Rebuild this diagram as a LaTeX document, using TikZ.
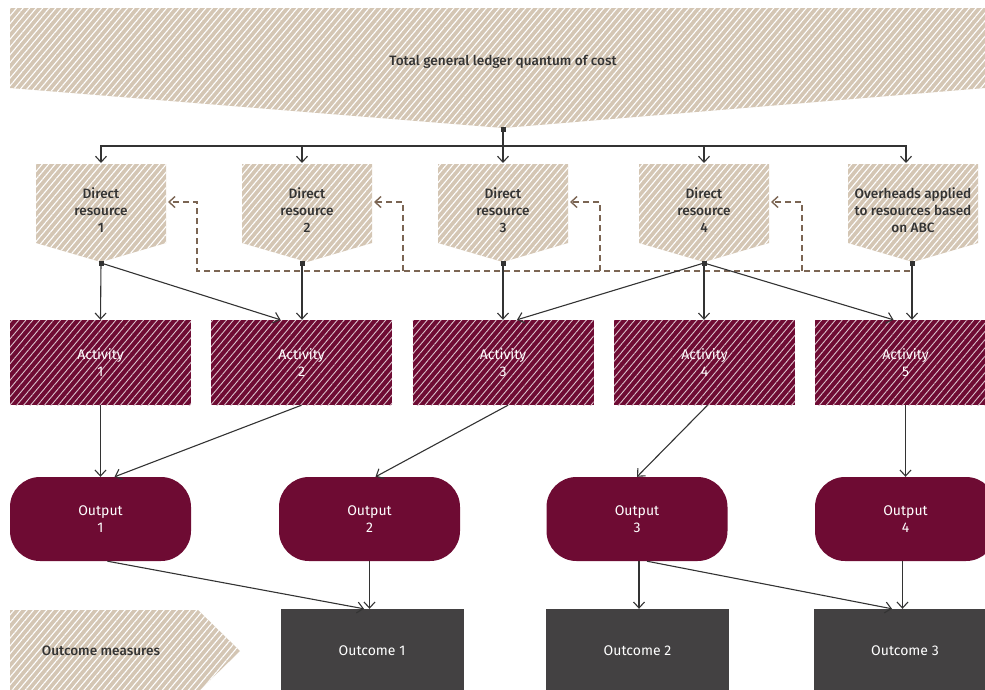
\documentclass[tikz,border=0pt]{standalone}
\usepackage{fontspec}
\setmainfont{Fira Sans}
\newfontfamily\medfont{Fira Sans}[UprightFont={* Medium}]
\usetikzlibrary{arrows.meta,patterns.meta}
\definecolor{beige}{HTML}{D4C6B4}
\definecolor{wine}{HTML}{6E0B33}
\definecolor{darkbox}{HTML}{434142}
\definecolor{ink}{HTML}{333333}
\definecolor{dashbrown}{HTML}{7B6553}
\tikzset{
  beigehatch/.style={fill=beige, postaction={pattern={Lines[angle=50,distance=5pt,line width=1.1pt]}, pattern color=white}},
  winehatch/.style={fill=wine, postaction={pattern={Lines[angle=50,distance=5.3pt,line width=0.9pt]}, pattern color=white!75!wine}},
  conn/.style={draw=ink, line width=1.1pt, -{Straight Barb[length=6pt,width=11pt]}},
  dconn/.style={draw=dashbrown, line width=1.4pt, dash pattern=on 6pt off 4pt, -{Straight Barb[length=6pt,width=11pt]}},
  dot/.style={fill=ink, minimum size=5pt, inner sep=0pt, rectangle},
  lbl/.style={font=\medfont\fontsize{13.6}{17}\selectfont, text=ink, align=center},
  wlbl/.style={font=\fontsize{14}{17}\selectfont, text=white, align=center},
  actbox/.style={winehatch, rectangle, minimum width=181pt, minimum height=85pt, inner sep=0pt, wlbl},
  outbox/.style={fill=wine, rectangle, rounded corners=30pt, minimum width=181pt, minimum height=84pt, inner sep=0pt, wlbl},
  resbox/.style={fill=darkbox, rectangle, minimum width=183pt, minimum height=84pt, inner sep=0pt, wlbl},
}
\begin{document}
\begin{tikzpicture}[x=1pt,y=-1pt]
\useasboundingbox (0,0) rectangle (985,689);
\begin{scope}
\clip (0,0) rectangle (985,689);
% top banner
\path[beigehatch] (10,8) -- (985,8) -- (985,88) -- (503,128) -- (10,88) -- cycle;
\node[lbl] (total) at (503,62) {Total general ledger quantum of cost};
\coordinate (gl) at (503,129);
\coordinate (bus) at (503,146);
% resources
\foreach \n/\x/\t in {1/101/{Direct\\resource\\1},2/307/{Direct\\resource\\2},3/503/{Direct\\resource\\3},4/704/{Direct\\resource\\4},5/913/{Overheads applied\\to resources based\\on ABC}}{
  \path[beigehatch] (\x-65,164) -- (\x+65,164) -- (\x+65,243) -- (\x,262) -- (\x-65,243) -- cycle;
  \node[lbl] (r\n) at (\x,210) {\t};
  \coordinate (r\n-e) at (\x+67,202);
}
\coordinate (r1-top) at (101,163);
\coordinate (r2-top) at (302,163);
\coordinate (r3-top) at (503,163);
\coordinate (r4-top) at (704,163);
\coordinate (r5-top) at (906,163);
\coordinate (r1-tip) at (101,263);
\coordinate (r2-tip) at (302,263);
\coordinate (r3-tip) at (503,263);
\coordinate (r4-tip) at (704,263);
\coordinate (r5-tip) at (912,263);
% bus connectors
\foreach \n in {1,...,5}{
  \draw[conn] (gl) -- (bus) -| (r\n-top);
}
% dashed overhead allocation
\coordinate (j1) at (197,271);
\coordinate (j2) at (403,271);
\coordinate (j3) at (600,271);
\coordinate (j4) at (802,271);
\draw[dconn] (r5-tip) |- (j1) |- (r1-e);
\draw[dconn] (j2) |- (r2-e);
\draw[dconn] (j3) |- (r3-e);
\draw[dconn] (j4) |- (r4-e);
% activities
\foreach \n/\x in {1/100.5,2/301.5,3/503,4/704.5,5/905.5}{
  \node[actbox] (a\n) at (\x,362.5) {Activity\\\n};
}
% resource -> activity
\draw[conn] (r1-tip) -- (a1.north);
\draw[conn] (r1-tip) -- ([xshift=-21pt]a2.north);
\draw[conn] (r2-tip) -- (r2-tip |- a2.north);
\draw[conn] (r3-tip) -- (a3.north);
\draw[conn] (r4-tip) -- ([xshift=14pt]a3.north);
\draw[conn] (r4-tip) -- (r4-tip |- a4.north);
\draw[conn] (r4-tip) -- ([xshift=-12pt]a5.north);
\draw[conn] (r5-tip) -- (r5-tip |- a5.north);
\foreach \n in {1,...,5}{ \node[dot] (d\n) at (r\n-tip) {}; }
\node[dot] (d0) at (gl) {};
% outputs
\foreach \n/\x in {1/100.5,2/369.5,3/637,4/905.5}{
  \node[outbox] (o\n) at (\x,519) {Output\\\n};
}
% activity -> output
\draw[conn] (a1.south) -- (o1.north);
\draw[conn] (a2.south) -- ([xshift=14pt]o1.north);
\draw[conn] ([xshift=5pt]a3.south) -- ([xshift=6pt]o2.north);
\draw[conn] ([xshift=3pt]a4.south) -- (o3.north);
\draw[conn] (a5.south) -- (o4.north);
% outcome measures
\path[beigehatch] (10,610) -- (198,610) -- (240,651) -- (198,692) -- (10,692) -- cycle;
\node[lbl] (om) at (101,651) {Outcome measures};
% outcomes
\node[resbox] (u1) at (372,651) {Outcome 1};
\node[resbox] (u2) at (637.5,651) {Outcome 2};
\node[resbox] (u3) at (905,651) {Outcome 3};
% output -> outcome
\draw[conn] ([xshift=7pt]o1.south) -- ([xshift=-8pt]u1.north);
\draw[conn] (o2.south) -- (o2.south |- u1.north);
\draw[conn] ([xshift=2pt]o3.south) -- ([xshift=2pt]o3.south |- u2.north);
\draw[conn] ([xshift=10pt]o3.south) -- ([xshift=-13pt]u3.north);
\draw[conn] ([xshift=-3pt]o4.south) -- ([xshift=-3pt]o4.south |- u3.north);
\end{scope}
\end{tikzpicture}
\end{document}
